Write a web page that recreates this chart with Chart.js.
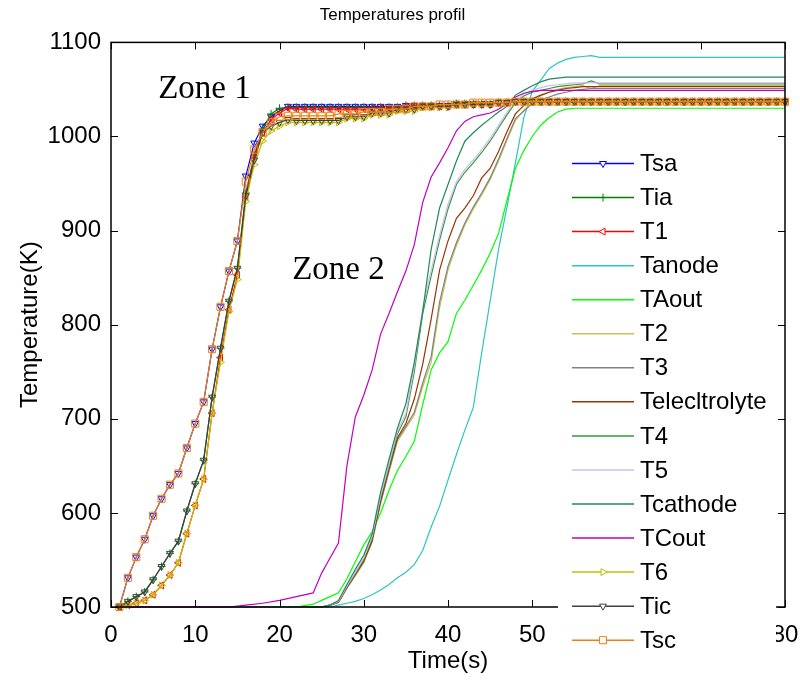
<!DOCTYPE html>
<html>
<head>
<meta charset="utf-8">
<title>Temperatures profil</title>
<script src="https://cdn.jsdelivr.net/npm/chart.js@4.4.1/dist/chart.umd.min.js"></script>
<style>
  html, body { margin: 0; padding: 0; background: #fff; }
  #myChart { display: block; }
</style>
</head>
<body>
<canvas id="myChart" width="800" height="681"></canvas>
<script>
// time (s) of the curves drawn with markers, one point per second
const time = [1,2,3,4,5,6,7,8,9,10,11,12,13,14,15,16,17,18,19,20,
  21,22,23,24,25,26,27,28,29,30,31,32,33,34,35,36,37,38,39,40,
  41,42,43,44,45,46,47,48,49,50,51,52,53,54,55,56,57,58,59,60,
  61,62,63,64,65,66,67,68,69,70,71,72,73,74,75,76,77,78,79,80];

// time (s) of the plain line curves (zone 2)
const tLine = [1,14,16,18,20,22,
  24,25,26,27,28,29,30,31,32,33,34,35,36,37,38,39,40,41,42,
  43,44,45,46,47,48,49,50,51,52,53,54,55,56,57,58,59,60,80];

const xTicks = [0,10,20,30,40,50,60,70,80];
const yTicks = [500,600,700,800,900,1000,1100];

// zone 1 curves (K)
const Tsa = [500,531,553,572,597,615,630,642,669,695,718,774,819,857,889,958,993,1011,1021,1027,
  1032,1032,1032,1032,1032,1032,1032,1032,1032,1032,1032,1032,1032,1032,1033,1033,1033,1033,1033,1033,
  1035,1035,1035,1035,1035,1036,1036,1037,1037,1037,1037,1037,1037,1037,1037,1037,1037,1037,1037,1037,
  1037,1037,1037,1037,1037,1037,1037,1037,1037,1037,1037,1037,1037,1037,1037,1037,1037,1037,1037,1037];
const Tia = [500,506,511,516,529,543,557,570,602,631,656,723,775,825,860,940,980,1008,1024,1030,
  1031,1031,1031,1031,1031,1031,1031,1031,1031,1031,1031,1031,1031,1031,1033,1033,1033,1033,1033,1033,
  1035,1035,1035,1035,1035,1036,1036,1037,1037,1037,1037,1037,1037,1037,1037,1037,1037,1037,1037,1037,
  1037,1037,1037,1037,1037,1037,1037,1037,1037,1037,1037,1037,1037,1037,1037,1037,1037,1037,1037,1037];
const T1 = [500,502,504,507,513,523,534,547,578,608,636,706,765,816,853,936,979,1004,1018,1025,
  1030,1029,1029,1029,1029,1029,1029,1029,1029,1029,1030,1030,1030,1030,1032,1032,1032,1032,1032,1032,
  1034,1034,1034,1034,1034,1036,1036,1037,1037,1037,1037,1037,1037,1037,1037,1037,1037,1037,1037,1037,
  1037,1037,1037,1037,1037,1037,1037,1037,1037,1037,1037,1037,1037,1037,1037,1037,1037,1037,1037,1037];
const T6 = [500,502,504,507,513,523,534,547,578,608,636,706,760,814,848,931,970,995,1006,1011,
  1015,1015,1015,1015,1015,1015,1015,1019,1019,1019,1023,1023,1023,1027,1027,1027,1031,1031,1031,1031,
  1034,1034,1034,1034,1034,1036,1036,1037,1037,1037,1037,1037,1037,1037,1037,1037,1037,1037,1037,1037,
  1037,1037,1037,1037,1037,1037,1037,1037,1037,1037,1037,1037,1037,1037,1037,1037,1037,1037,1037,1037];
const Tic = [500,506,511,516,529,543,557,570,602,631,656,723,775,825,860,937,975,1004,1011,1015,
  1018,1017,1017,1017,1017,1017,1017,1021,1021,1021,1025,1025,1025,1029,1029,1029,1032,1032,1032,1032,
  1034,1034,1034,1034,1034,1036,1036,1037,1037,1037,1037,1037,1037,1037,1037,1037,1037,1037,1037,1037,
  1037,1037,1037,1037,1037,1037,1037,1037,1037,1037,1037,1037,1037,1037,1037,1037,1037,1037,1037,1037];
const Tsc = [500,531,553,572,597,615,630,642,669,695,718,774,819,857,889,952,986,1004,1015,1021,
  1022,1022,1022,1022,1022,1022,1024,1024,1024,1026,1026,1026,1029,1029,1029,1032,1032,1032,1034,1034,
  1034,1034,1036,1036,1036,1036,1036,1037,1037,1037,1037,1037,1037,1037,1037,1037,1037,1037,1037,1037,
  1037,1037,1037,1037,1037,1037,1037,1037,1037,1037,1037,1037,1037,1037,1037,1037,1037,1037,1037,1037];

// zone 2 curves (K), on tLine
const TCout = [500,500,502,504,507,511,
  515,536,552,568,650,702,725,752,790,812,835,857,885,930,957,972,988,1006,1016,
  1021,1023,1025,1029,1035,1042,1046,1048,1049,1049,1049,1049,1049,1049,1049,1049,1049,1049,1049];
const Tanode = [500,500,500,500,500,500,
  500,500,500,502,504,506,509,513,518,524,531,537,545,560,585,607,635,662,688,
  712,770,825,880,925,972,1020,1048,1060,1072,1078,1082,1084,1085,1086,1084,1084,1084,1084];
const TAout = [500,500,500,500,500,500,
  503,507,511,515,530,548,566,580,600,624,645,660,676,715,752,770,782,812,826,
  842,858,876,897,932,966,985,1000,1012,1020,1026,1029,1030,1030,1030,1030,1030,1030,1030];
const Tcathode = [500,500,500,500,500,500,
  500,500,502,507,524,540,555,578,622,657,690,716,760,814,880,924,949,974,995,
  1004,1012,1019,1026,1032,1044,1049,1054,1058,1061,1062,1063,1063,1063,1063,1063,1063,1063,1063];
const T4 = [500,500,500,500,500,500,
  500,500,502,506,522,536,551,574,617,650,684,702,750,812,852,890,923,949,962,
  972,983,995,1009,1023,1036,1043,1047,1049,1051,1053,1054,1055,1056,1059,1056,1056,1056,1056];
const T5 = [500,500,500,500,500,500,
  500,500,502,506,522,537,552,575,618,652,687,706,756,818,858,895,928,952,965,
  975,986,998,1012,1026,1038,1045,1049,1052,1054,1055,1056,1057,1057,1057,1057,1057,1057,1057];
const Telec = [500,500,500,500,500,500,
  500,500,502,505,521,535,549,571,613,647,680,695,721,758,806,858,889,913,924,
  937,956,966,984,1005,1024,1033,1040,1044,1047,1049,1051,1052,1053,1053,1053,1053,1053,1053];
const T3 = [500,500,500,500,500,500,
  500,500,502,505,520,534,548,570,611,645,678,692,707,738,766,824,862,887,908,
  925,940,956,976,998,1019,1027,1035,1039,1042,1045,1047,1049,1050,1051,1051,1051,1051,1051];
const T2 = [500,500,500,500,500,500,
  500,500,502,505,520,533,547,569,610,644,676,690,704,734,760,818,858,884,906,
  923,938,954,974,996,1017,1028,1037,1043,1047,1050,1052,1053,1054,1051,1054,1054,1054,1054];

// legend order = plotting order
const series = [
  {name: 'Tsa', t: time, v: Tsa, color: '#0000ff', marker: 'triangle', rot: 180, r: 4},
  {name: 'Tia', t: time, v: Tia, color: '#008000', marker: 'cross', rot: 0, r: 4},
  {name: 'T1', t: time, v: T1, color: '#ff0000', marker: 'triangle', rot: 270, r: 4},
  {name: 'Tanode', t: tLine, v: Tanode, color: '#2fc4c4'},
  {name: 'TAout', t: tLine, v: TAout, color: '#00ff00'},
  {name: 'T2', t: tLine, v: T2, color: '#c4c450'},
  {name: 'T3', t: tLine, v: T3, color: '#808080'},
  {name: 'Telecltrolyte', t: tLine, v: Telec, color: '#993300'},
  {name: 'T4', t: tLine, v: T4, color: '#3c963c'},
  {name: 'T5', t: tLine, v: T5, color: '#c8bff5'},
  {name: 'Tcathode', t: tLine, v: Tcathode, color: '#208a5a'},
  {name: 'TCout', t: tLine, v: TCout, color: '#c000c0'},
  {name: 'T6', t: time, v: T6, color: '#c0c000', marker: 'triangle', rot: 90, r: 4},
  {name: 'Tic', t: time, v: Tic, color: '#404040', marker: 'triangle', rot: 180, r: 4},
  {name: 'Tsc', t: time, v: Tsc, color: '#ee8010', marker: 'rect', rot: 0, r: 5}
];

const FONT = '"Liberation Sans", Arial, sans-serif';

const datasets = series.map((s, i) => ({
  label: s.name,
  data: s.t.map((t, k) => ({x: t, y: s.v[k]})),
  borderColor: s.color,
  backgroundColor: 'rgba(0,0,0,0)',
  borderWidth: 1.2,
  pointStyle: s.marker || 'circle',
  pointRotation: s.rot || 0,
  pointRadius: s.marker ? s.r : 0,
  pointHoverRadius: s.marker ? s.r : 0,
  pointBorderWidth: 1,
  pointBorderColor: s.color,
  pointBackgroundColor: 'rgba(0,0,0,0)',
  tension: 0,
  clip: false,
  order: series.length - i
}));

// box, inner ticks, zone labels and the legend drawn over the plot
const matlabLook = {
  id: 'matlabLook',
  afterDatasetsDraw(chart) {
    const {ctx, chartArea: a, scales: {x, y}} = chart;
    ctx.save();
    ctx.strokeStyle = '#000';
    ctx.lineWidth = 1.5;
    ctx.strokeRect(a.left, a.top, a.right - a.left, a.bottom - a.top);
    ctx.lineWidth = 1;
    ctx.beginPath();
    xTicks.forEach(v => {
      const px = Math.round(x.getPixelForValue(v)) + 0.5;
      ctx.moveTo(px, a.bottom); ctx.lineTo(px, a.bottom - 7);
      ctx.moveTo(px, a.top); ctx.lineTo(px, a.top + 7);
    });
    yTicks.forEach(v => {
      const py = Math.round(y.getPixelForValue(v)) + 0.5;
      ctx.moveTo(a.left, py); ctx.lineTo(a.left + 7, py);
      ctx.moveTo(a.right, py); ctx.lineTo(a.right - 7, py);
    });
    ctx.stroke();

    ctx.fillStyle = '#000';
    ctx.font = '33px "Liberation Serif", "Times New Roman", serif';
    ctx.textAlign = 'left';
    ctx.textBaseline = 'alphabetic';
    ctx.fillText('Zone 1', x.getPixelForValue(5.6), y.getPixelForValue(1041));
    ctx.fillText('Zone 2', x.getPixelForValue(21.5), y.getPixelForValue(849));
    ctx.restore();
  },
  afterDraw(chart) {
    const ctx = chart.ctx;
    ctx.save();
    ctx.fillStyle = '#fff';
    ctx.fillRect(558, 147, 218, 534);
    ctx.font = '24px ' + FONT;
    ctx.textAlign = 'left';
    ctx.textBaseline = 'middle';
    chart.data.datasets.forEach((ds, i) => {
      const ly = 163.5 + i * 34.05;
      ctx.strokeStyle = ds.borderColor;
      ctx.lineWidth = 1.5;
      ctx.beginPath();
      ctx.moveTo(572, ly);
      ctx.lineTo(634, ly);
      ctx.stroke();
      if (ds.pointRadius > 0) {
        ctx.fillStyle = '#fff';
        ctx.lineWidth = 1;
        Chart.helpers.drawPoint(ctx, {
          pointStyle: ds.pointStyle, rotation: ds.pointRotation,
          radius: ds.pointRadius, borderWidth: 1
        }, 603, ly);
      }
      ctx.fillStyle = '#000';
      ctx.fillText(ds.label, 640, ly + 1);
    });
    ctx.restore();
  }
};

new Chart(document.getElementById('myChart').getContext('2d'), {
  type: 'line',
  data: {datasets: datasets},
  options: {
    responsive: false,
    animation: false,
    devicePixelRatio: 1,
    layout: {padding: {top: 0, right: 15, left: 0, bottom: 0}},
    plugins: {
      legend: {display: false},
      tooltip: {enabled: false},
      title: {
        display: true,
        text: 'Temperatures profil',
        color: '#000',
        font: {family: FONT, size: 17, weight: 'normal'},
        padding: {top: 5, bottom: 17}
      }
    },
    scales: {
      x: {
        type: 'linear', min: 0, max: 80,
        grid: {display: false},
        border: {display: false},
        ticks: {stepSize: 10, color: '#000', font: {family: FONT, size: 24}, padding: 6, maxRotation: 0,
          callback: v => String(v)},
        title: {display: true, text: 'Time(s)', color: '#000', font: {family: FONT, size: 24}, padding: {top: 0, bottom: 5}},
        afterFit(scale) { scale.height = 74; scale.paddingRight = 0; }
      },
      y: {
        type: 'linear', min: 500, max: 1100,
        grid: {display: false},
        border: {display: false},
        ticks: {stepSize: 100, color: '#000', font: {family: FONT, size: 24}, padding: 2,
          callback: v => String(v)},
        title: {display: true, text: 'Temperature(K)', color: '#000', font: {family: FONT, size: 24}, padding: {top: 16, bottom: 0}},
        afterFit(scale) { scale.width = 111; }
      }
    }
  },
  plugins: [matlabLook]
});
</script>
</body>
</html>
